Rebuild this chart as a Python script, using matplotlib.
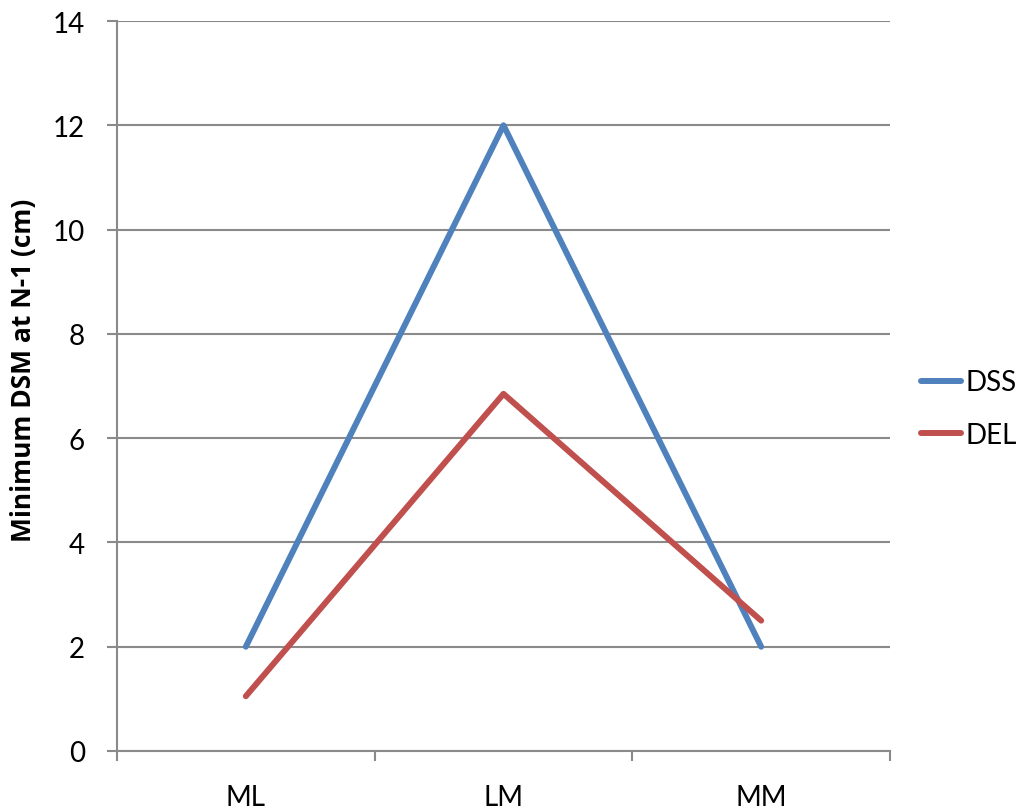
import matplotlib
matplotlib.use("Agg")
import matplotlib.pyplot as plt

categories = ["ML", "LM", "MM"]
dss = [2.0, 12.0, 2.0]
de_l = [1.05, 6.85, 2.5]

plt.rcParams['font.family'] = ['Lato', 'DejaVu Sans']

fig = plt.figure(figsize=(10.19, 8.12), dpi=100)
ax = fig.add_axes([0.1148, 0.0739, 0.7586, 0.899])

x = list(range(len(categories)))
ax.plot(x, dss, color="#4F81BD", lw=4.3, label="DSS", solid_capstyle="round")
ax.plot(x, de_l, color="#C0504D", lw=4.3, label="DEL", solid_capstyle="round")

ax.set_xlim(-0.5, 2.5)
ax.set_ylim(0, 14)
ax.set_yticks(range(0, 15, 2))
ax.yaxis.grid(True, color="#8a8a8a", lw=1.5)
ax.set_axisbelow(True)

ax.set_xticks(x)
ax.set_xticklabels(categories)
ax.set_xticks([-0.5, 0.5, 1.5, 2.5], minor=True)
ax.tick_params(axis="x", which="major", length=0, pad=24, labelsize=20)
ax.tick_params(axis="x", which="minor", length=7, width=1.5, color="#8a8a8a", direction="out")
ax.tick_params(axis="y", length=7, width=1.5, color="#8a8a8a", pad=16, labelsize=20)

for s in ["top", "right"]:
    ax.spines[s].set_visible(False)
for s in ["left", "bottom"]:
    ax.spines[s].set_color("#8a8a8a")
    ax.spines[s].set_linewidth(1.5)

ax.set_ylabel("Minimum DSM at N-1 (cm)", fontsize=19, fontweight="bold",
              family=["Open Sans", "DejaVu Sans"])
ax.yaxis.set_label_coords(-0.104, 0.5226)

fig.legend(loc="center left", bbox_to_anchor=(0.904, 0.4957), bbox_transform=fig.transFigure,
           frameon=False, borderpad=0, borderaxespad=0, fontsize=20,
           handlelength=1.45, handletextpad=0.15, labelspacing=0.95)

fig.savefig("out.png", dpi=100)
